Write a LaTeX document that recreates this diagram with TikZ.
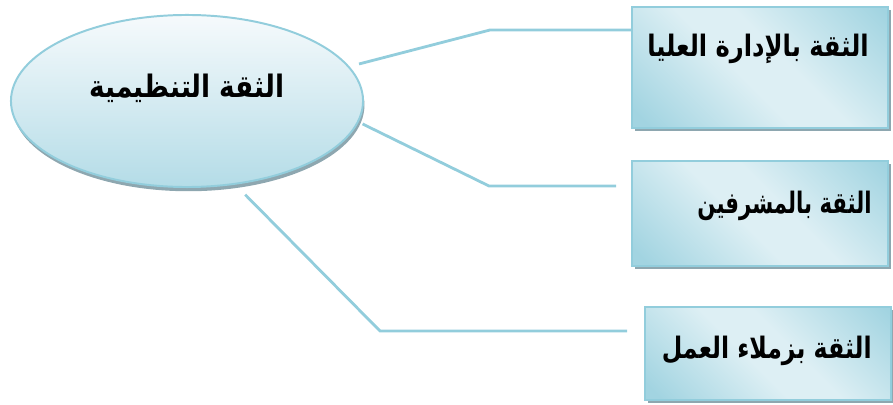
\documentclass[tikz,border=0pt]{standalone}
\usepackage{fontspec}
\usepackage{graphicx}
\newfontfamily\arabicfont[Script=Arabic]{DejaVu Sans}
\TeXXeTstate=1
\usetikzlibrary{shapes.geometric,shadows}
\definecolor{rim}{HTML}{92CDDC}
\definecolor{shade}{HTML}{8EA7B0}
\definecolor{pale}{HTML}{F6FAFC}
\definecolor{sky}{HTML}{B4DCE7}
\definecolor{boxdark}{HTML}{A2D4E1}
\definecolor{boxlight}{HTML}{DDEFF4}
\pgfdeclarehorizontalshading{boxgrad}{100bp}{color(0bp)=(boxdark); color(18bp)=(boxdark); color(45bp)=(boxlight); color(56bp)=(boxlight); color(84bp)=(boxdark); color(100bp)=(boxdark)}
\tikzset{
  hub/.style={ellipse, draw=rim, line width=1.4pt, top color=pale, bottom color=sky,
    minimum width=8.8cm, minimum height=4.3cm, inner sep=0pt,
    drop shadow={shadow xshift=1pt, shadow yshift=-3pt, fill=shade, opacity=1}},
  card/.style={draw=rim, line width=1.4pt, shading=boxgrad, shading angle=45, inner sep=0pt,
    drop shadow={shadow xshift=2.2pt, shadow yshift=-2.2pt, fill=shade, opacity=1}},
  word/.style={inner sep=0pt, font=\arabicfont\bfseries\fontsize{21}{24}\selectfont},
  link/.style={draw=rim, line width=2pt}
}
\begin{document}
\begin{tikzpicture}[x=0.025cm, y=-0.025cm]
  \useasboundingbox (0,0) rectangle (893,405);
  % centre
  \node (el) [hub] at (187,101) {};
  \node (elt) [word, font=\arabicfont\bfseries\fontsize{22}{24}\selectfont] at (187,88) {\scalebox{0.85}[1]{\beginR الثقة التنظيمية\endR}};
  % boxes
  \node (b1) [card, minimum width=6.4cm, minimum height=3.025cm] at (760,67.5) {};
  \node (b2) [card, minimum width=6.4cm, minimum height=2.625cm] at (760,213.5) {};
  \node (b3) [card, minimum width=6.15cm, minimum height=2.325cm] at (768,353.5) {};
  \node (t1) [word, anchor=east] at (869,49) {\scalebox{0.82}[1]{\beginR الثقة بالإدارة العليا\endR}};
  \node (t2) [word, anchor=east] at (872,206) {\scalebox{0.72}[1]{\beginR الثقة بالمشرفين\endR}};
  \node (t3) [word, anchor=east] at (872,351) {\scalebox{0.8}[1]{\beginR الثقة بزملاء العمل\endR}};
  % links
  \coordinate (k1) at (490,30);
  \coordinate (k2) at (489,186);
  \coordinate (k3) at (380,331);
  \draw [link, shorten <=7pt] (el.12) -- (k1) -- (k1 -| b1.west);
  \draw [link, shorten <=3pt, shorten >=10.5pt] (el.-7) -- (k2) -- (k2 -| b2.west);
  \draw [link, shorten <=10pt, shorten >=12pt] (el.-60) -- (k3) -- (k3 -| b3.west);
\end{tikzpicture}
\end{document}
